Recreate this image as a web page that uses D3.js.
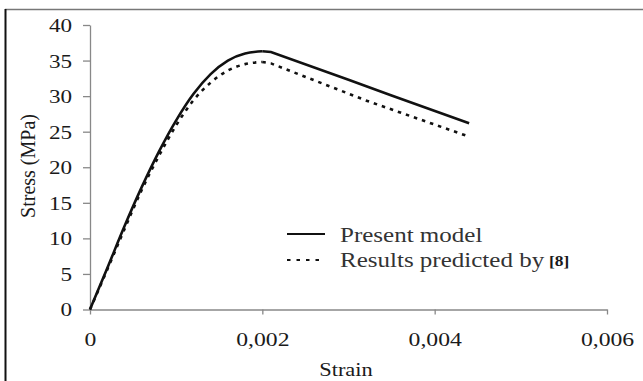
<!DOCTYPE html>
<html>
<head>
<meta charset="utf-8">
<script src="https://cdn.jsdelivr.net/npm/d3@7"></script>
<style>
  body { margin: 0; background: #fff; }
  text { font-family: "Liberation Serif", "Times New Roman", serif; fill: #1a1a1a; }
</style>
</head>
<body>
<script>
var width = 643,
    height = 381;

// strain / stress (rising branch up to the peak, then falling branch)
var modelStrain = [0, 0.0002, 0.0004, 0.0006, 0.0008, 0.001, 0.0012, 0.0014, 0.0016, 0.0018, 0.002, 0.0021, 0.003, 0.0035, 0.0044];
var modelStress = [0, 5.8, 11.7, 17.2, 22.2, 26.6, 30.3, 33.1, 35, 36, 36.3, 36.2, 32.3, 30.1, 26.2];
var modelPeak = 11;

var refStrain = [0, 0.0002, 0.0004, 0.0006, 0.0008, 0.001, 0.0012, 0.0014, 0.0016, 0.0018, 0.002, 0.0021, 0.0032, 0.0044];
var refStress = [0, 5.6, 11.3, 16.8, 21.6, 25.9, 29.4, 31.9, 33.6, 34.5, 34.8, 34.6, 29.4, 24.3];
var refPeak = 11;

var xTicks = [0, 0.002, 0.004, 0.006],
    yTicks = [0, 5, 10, 15, 20, 25, 30, 35, 40];

var legendLabels = ["Present model", "Results predicted by"];

var svg = d3.select("body").append("svg")
    .attr("width", width)
    .attr("height", height);

var x = d3.scaleLinear().domain([0, 0.006]).range([90, 607]),
    y = d3.scaleLinear().domain([0, 40]).range([309.5, 25]);

var comma = d3.formatLocale({decimal: ",", thousands: ".", grouping: [3], currency: ["", ""]}).format(".3f");

// frame
svg.append("line").attr("x1", 5).attr("x2", width).attr("y1", 9.5).attr("y2", 9.5)
    .attr("stroke", "#777").attr("stroke-width", 1.5);
svg.append("line").attr("x1", 5.5).attr("x2", 5.5).attr("y1", 9).attr("y2", height)
    .attr("stroke", "#111").attr("stroke-width", 2);

// the text in the picture is drawn wider than normal
function widen(sel, k) {
  sel.each(function() {
    var len = this.getComputedTextLength();
    d3.select(this).attr("textLength", len * k).attr("lengthAdjust", "spacingAndGlyphs");
  });
}

var xAxis = svg.append("g")
    .attr("transform", `translate(0,${y(0)})`)
    .call(d3.axisBottom(x).tickValues(xTicks).tickSize(5).tickSizeOuter(0)
      .tickFormat((d) => d === 0 ? "0" : comma(d)));

var yAxis = svg.append("g")
    .attr("transform", `translate(${x(0)},0)`)
    .call(d3.axisLeft(y).tickValues(yTicks).tickSize(7).tickSizeOuter(0));

svg.selectAll(".domain, .tick line").attr("stroke", "#888").attr("stroke-width", 1.3);

xAxis.selectAll(".tick text")
    .attr("y", 36.5)
    .attr("dy", 0)
    .style("font-size", "18.5px")
    .call(widen, 1.28);

yAxis.selectAll(".tick text")
    .attr("x", -18)
    .attr("dy", "0.35em")
    .style("font-size", "18.5px")
    .call(widen, 1.25);

svg.selectAll(".tick text").attr("fill", "#1a1a1a");

// axis titles
svg.append("text")
    .attr("x", 346)
    .attr("y", 376)
    .attr("text-anchor", "middle")
    .style("font-size", "19.5px")
    .text("Strain")
    .call(widen, 1.15);

svg.append("text")
    .attr("transform", "translate(35,166) rotate(-90)")
    .attr("text-anchor", "middle")
    .style("font-size", "20px")
    .text("Stress (MPa)");

var rise = d3.line()
    .x((d) => x(d[0]))
    .y((d) => y(d[1]))
    .curve(d3.curveMonotoneX);

var fall = d3.line()
    .x((d) => x(d[0]))
    .y((d) => y(d[1]));

function drawCurve(strain, stress, peak, dash) {
  var pts = d3.zip(strain, stress);
  var g = svg.append("g")
      .attr("fill", "none")
      .attr("stroke", "#111")
      .attr("stroke-width", 2.6)
      .attr("stroke-dasharray", dash);
  g.append("path").attr("d", rise(pts.slice(0, peak)));
  g.append("path").attr("d", fall(pts.slice(peak - 1)));
}

drawCurve(refStrain, refStress, refPeak, "3.5,5");
drawCurve(modelStrain, modelStress, modelPeak, null);

// legend
var legend = svg.append("g");

legend.selectAll("line")
    .data(legendLabels)
  .enter().append("line")
    .attr("x1", 287)
    .attr("x2", 325)
    .attr("y1", (d, i) => 234 + i * 26)
    .attr("y2", (d, i) => 234 + i * 26)
    .attr("stroke", "#111")
    .attr("stroke-width", 2)
    .attr("stroke-dasharray", (d, i) => i ? "3.5,6" : null);

legend.selectAll("text")
    .data(legendLabels)
  .enter().append("text")
    .attr("x", 340)
    .attr("y", (d, i) => 242 + i * 24.5)
    .style("font-size", "20px")
    .style("fill", "#333")
    .text((d) => d)
    .call(widen, 1.25);

legend.append("text")
    .attr("x", 549)
    .attr("y", 266)
    .style("font-size", "14.5px")
    .style("font-weight", "bold")
    .text("[8]")
    .call(widen, 1.2);
</script>
</body>
</html>
